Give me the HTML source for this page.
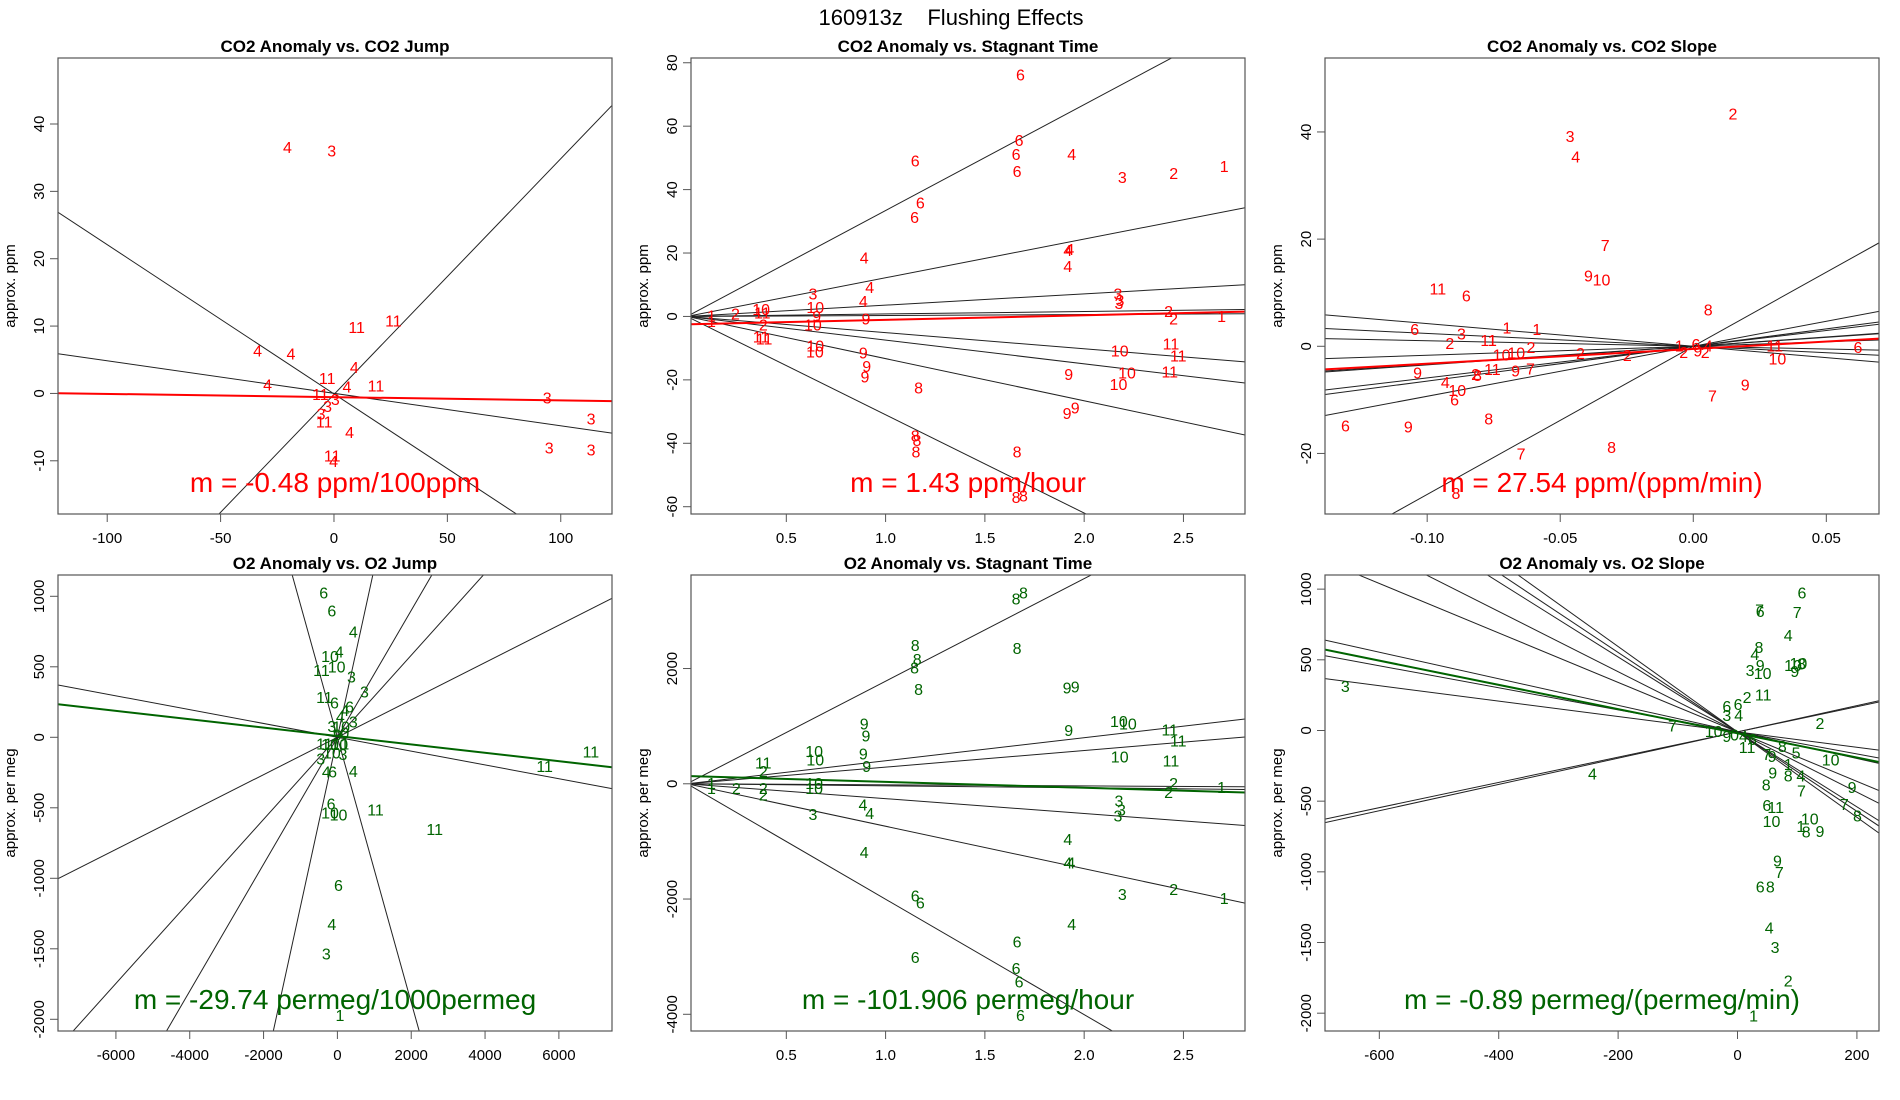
<!DOCTYPE html>
<html><head><meta charset="utf-8"><title>160913z Flushing Effects</title>
<style>
html,body{margin:0;padding:0;background:#fff;width:1900px;height:1100px;overflow:hidden;}
svg{display:block;font-family:"Liberation Sans",Arial,sans-serif;}
</style></head>
<body>
<svg id="chart" width="1900" height="1100" viewBox="0 0 1900 1100" xmlns="http://www.w3.org/2000/svg">
<rect x="0" y="0" width="1900" height="1100" fill="#fff"/>
<text x="951" y="25" font-size="22" text-anchor="middle" fill="#000" style="white-space:pre" xml:space="preserve">160913z    Flushing Effects</text>
</svg>
<script>
// ---------- Panel 1: CO2 Anomaly vs CO2 Jump ----------
var p1X=[-20.5,-1,10,26.2,-33.7,-19,9,-3,-29.3,5.7,18.5,-6,0.6,-2.8,-5.7,-4.3,94,113.4,94.9,113.4,6.9,-0.8,-0.2];
var p1Y=[36.6,36.1,9.9,10.8,6.4,5.9,3.9,2.3,1.3,1.0,1.2,-0.1,-0.8,-1.9,-3,-4.2,-0.6,-3.7,-8,-8.3,-5.7,-9.2,-10];
var p1Lab=["4","3","11","11","4","4","4","11","4","4","11","11","3","3","3","11","3","3","3","3","4","11","4"];
var p1LineM=[-0.2216,-0.0483,0.350];
var p1LineB=[-0.07,0.02,-0.15];
var p1FitM=-0.0048, p1FitB=-0.55;
var p1XTicks=[-100,-50,0,50,100];
var p1YTicks=[-10,0,10,20,30,40];

// ---------- Panel 2: CO2 Anomaly vs Stagnant Time ----------
var p2X=[1.679,1.672,1.657,1.662,1.149,1.175,1.146,1.937,2.192,2.451,2.705,1.918,1.928,1.918,0.892,0.92,0.888,0.634,2.17,2.18,2.175,0.646,0.653,0.634,0.901,0.244,0.123,0.123,0.373,0.379,0.384,0.373,0.388,0.646,0.644,0.888,0.905,0.896,1.166,1.149,1.158,1.153,1.662,1.657,1.694,1.922,1.914,1.955,2.179,2.216,2.173,2.437,2.474,2.431,2.425,2.45,2.692];
var p2Y=[76.3,55.7,51.2,45.9,49.2,36,31.4,51.3,44,45.3,47.4,21,21.2,15.9,18.6,9.3,4.9,7.2,7.3,5.2,4.3,3,0.1,-2.6,-0.7,1,0.3,-1.5,2.4,1.2,-2.6,-6.4,-6.9,-9.2,-11,-11.3,-15.7,-18.9,-22.4,-37.6,-38.9,-42.6,-42.6,-57,-56.5,-18.1,-30.5,-28.7,-10.8,-17.6,-21.3,-8.6,-12.3,-17.3,1.7,-0.7,0.1];
var p2Lab=["6","6","6","6","6","6","6","4","3","2","1","4","4","4","4","4","4","3","3","3","3","10","9","10","9","2","1","1","10","11","2","11","11","10","10","9","9","9","8","8","8","8","8","8","8","9","9","9","10","10","10","11","11","11","2","2","1"];
var p2LineM=[33.4,12.2,3.56,0.78,0.3,-5.1,-7.47,-13.3,-31.0];
var p2LineB=[0,0,0,0,0,0,0,0,0];
var p2FitM=1.43, p2FitB=-2.5;
var p2XTicks=[0.5,1.0,1.5,2.0,2.5];
var p2YTicks=[-60,-40,-20,0,20,40,60,80];

// ---------- Panel 3: CO2 Anomaly vs CO2 Slope ----------
var p3X=[0.0149,-0.0463,-0.0442,-0.0331,-0.0394,-0.0345,-0.096,-0.0853,0.0056,-0.1047,-0.0871,-0.07,-0.0588,-0.0915,-0.0769,-0.0755,-0.072,-0.0665,-0.061,-0.0424,-0.0248,-0.0053,-0.0036,0.001,0.0017,0.0045,0.0056,0.0306,0.0316,0.0619,-0.1036,-0.0818,-0.0811,-0.0755,-0.0668,-0.0612,-0.0932,-0.0887,-0.0897,0.0195,0.0072,-0.1307,-0.1071,-0.0769,-0.0647,-0.0307,-0.0892];
var p3Y=[43.4,39.2,35.4,18.9,13.2,12.5,10.8,9.5,6.9,3.2,2.4,3.5,3.2,0.6,1.2,1.2,-1.5,-1.2,-0.1,-1.3,-1.6,0.1,-1.1,0.4,-0.8,-1.1,0.1,0.1,-2.3,-0.1,-4.9,-5.2,-5.4,-4.2,-4.5,-4.1,-6.7,-8.2,-9.9,-7.1,-9.2,-14.8,-15,-13.5,-20,-18.8,-27.4];
var p3Lab=["2","3","4","7","9","10","11","6","8","6","3","1","1","2","11","1","10","10","2","2","2","1","2","6","9","2","4","11","10","6","9","2","8","11","9","7","4","10","6","9","7","6","9","8","7","8","8"];
var p3LineM=[-42.3,-23.9,-10.4,16.7,33.4,34.7,59,65,93.3,276.5];
var p3LineB=[0,0,0,0,0,0,0,0,0,0];
var p3FitM=27.54, p3FitB=-0.5;
var p3XTicks=[-0.10,-0.05,0.00,0.05];
var p3YTicks=[-20,0,20,40];

// ---------- Panel 4: O2 Anomaly vs O2 Jump ----------
var p4X=[-371,-150,431,-200,50,-20,-431,381,732,-351,-80,331,200,80,431,-150,100,200,6867,5614,-451,-150,150,200,-300,-130,431,-170,-200,30,1033,2637,30,-150,-301,70,-351,-200,50,0];
var p4Y=[1026,898,749,577,608,501,478,430,324,284,246,217,194,147,111,80,75,33,-102,-203,-149,-109,-118,-43,-243,-243,-239,-468,-534,-546,-511,-652,-1047,-1324,-1532,-1969,-43,-47,-47,20];
var p4Lab=["6","6","4","10","4","10","11","3","3","11","6","6","4","4","3","3","10","0","11","11","3","10","3","1","4","6","4","6","10","10","11","11","6","4","3","1","11","10","10","9"];
var p4LineM=[-0.049,0.1325,0.291,0.45,1.2,-0.94];
var p4LineB=[0,0,0,0,0,0];
var p4FitM=-0.02974, p4FitB=9;
var p4XTicks=[-6000,-4000,-2000,0,2000,4000,6000];
var p4YTicks=[-2000,-1500,-1000,-500,0,500,1000];

// ---------- Panel 5: O2 Anomaly vs Stagnant Time ----------
var p5X=[1.657,1.694,1.149,1.662,1.159,1.146,1.166,1.914,1.955,0.892,0.901,1.922,2.175,2.22,2.431,2.474,2.179,2.437,0.64,0.646,0.888,0.905,0.384,0.384,0.123,0.123,0.248,0.384,0.384,0.64,0.64,2.45,2.425,2.692,2.175,2.188,2.17,0.634,0.886,0.92,1.918,1.918,1.933,0.892,2.192,2.451,2.705,1.937,1.149,1.175,1.662,1.149,1.657,1.672,1.679];
var p5Y=[3217,3322,2406,2354,2162,2017,1641,1670,1687,1049,841,933,1090,1049,945,754,470,406,568,423,522,307,365,220,17,-70,-70,-70,-186,17,-70,17,-145,-58,-290,-446,-551,-522,-359,-504,-957,-1362,-1362,-1188,-1913,-1826,-1983,-2429,-1942,-2058,-2736,-3009,-3200,-3432,-4012];
var p5Lab=["8","8","8","8","8","8","8","9","9","9","9","9","10","10","11","11","10","11","10","10","9","9","11","2","1","1","2","2","2","10","10","2","2","1","3","3","3","3","4","4","4","4","4","4","3","2","1","4","6","6","6","6","6","6","6"];
var p5LineM=[1780,400,289,-18.5,-35,-258,-737,-2003];
var p5LineB=[0,0,0,0,0,0,0,0];
var p5FitM=-101.906, p5FitB=135;
var p5XTicks=[0.5,1.0,1.5,2.0,2.5];
var p5YTicks=[-4000,-2000,0,2000];

// ---------- Panel 6: O2 Anomaly vs O2 Slope ----------
var p6X=[108,37,38,100,85,36,29,38,21,42,93,102,96,107,-657,16,43,-18,1,-18,2,-109,138,-40,-18,-243,16,75,98,49,58,156,85,59,85,106,48,107,192,179,201,49,64,57,121,106,115,138,67,70,38,55,53,63,85,27,10,-5,25];
var p6Y=[976,857,844,839,675,592,541,465,427,407,465,478,420,473,313,238,255,174,187,111,111,35,53,-3,-40,-306,-116,-110,-154,-167,-179,-205,-238,-298,-318,-318,-382,-425,-399,-521,-602,-526,-541,-640,-622,-677,-715,-710,-920,-1001,-1102,-1102,-1393,-1532,-1767,-2017,-40,-30,-60];
var p6Lab=["6","7","6","7","4","8","4","9","3","10","10","10","9","8","3","2","11","6","6","3","4","7","2","10","9","4","11","8","5","7","9","10","1","9","8","4","8","7","9","7","8","6","11","10","10","1","8","9","9","7","6","8","4","3","2","1","4","0","6"];
var p6LineM=[-0.94,-0.78,-0.545,0.893,0.929,-1.75,-2.13,-2.65,-2.81,-3.02];
var p6LineB=[-10,-10,-10,-10,-10,-10,-10,-10,-10,-10];
var p6FitM=-0.857, p6FitB=-20;
var p6XTicks=[-600,-400,-200,0,200];
var p6YTicks=[-2000,-1500,-1000,-500,0,500,1000];

var NS="http://www.w3.org/2000/svg";
var svg=document.getElementById('chart');
function mk(tag,attrs,parent){var e=document.createElementNS(NS,tag);for(var k in attrs)e.setAttribute(k,attrs[k]);(parent||svg).appendChild(e);return e;}

function panel(id,box,xlim,ylim,title,ylab,xt,yt,xs,ys,labs,lm,lb,fm,fb,color,note,fmtX){
  var g=mk('g',{});
  
  
  function sx(v){return box.x+(v-xlim[0])/(xlim[1]-xlim[0])*box.w;}
  function sy(v){return box.y+box.h-(v-ylim[0])/(ylim[1]-ylim[0])*box.h;}
  var cp=mk('clipPath',{id:'clip-'+id},g);
  mk('rect',{x:box.x,y:box.y,width:box.w,height:box.h},cp);
  var t=mk('text',{x:box.x+box.w/2,y:box.y-6,'font-size':17,'font-weight':'bold','text-anchor':'middle',fill:'#000'},g);
  t.textContent=title;
  
  
  var yl=mk('text',{transform:'translate('+(box.x-43)+','+(box.y+box.h/2)+') rotate(-90)','font-size':15,'text-anchor':'middle',fill:'#000'},g);
  yl.textContent=ylab;
  
  
  var xa=mk('g',{},g);
  
  
  mk('line',{x1:sx(xt[0]),x2:sx(xt[xt.length-1]),y1:box.y+box.h,y2:box.y+box.h,stroke:'#555','stroke-width':1},xa);
  xt.forEach(function(v){
    var X=sx(v);
    mk('line',{x1:X,x2:X,y1:box.y+box.h,y2:box.y+box.h+8,stroke:'#555','stroke-width':1},xa);
    var tl=mk('text',{x:X,y:box.y+box.h+29,'font-size':15,'text-anchor':'middle',fill:'#000'},xa);
    tl.textContent=fmtX(v);
    
    
  });
  var ya=mk('g',{},g);
  
  
  mk('line',{x1:box.x,x2:box.x,y1:sy(yt[0]),y2:sy(yt[yt.length-1]),stroke:'#555','stroke-width':1},ya);
  yt.forEach(function(v){
    var Y=sy(v);
    mk('line',{x1:box.x,x2:box.x-8,y1:Y,y2:Y,stroke:'#555','stroke-width':1},ya);
    var tl=mk('text',{transform:'translate('+(box.x-14)+','+Y+') rotate(-90)','font-size':15,'text-anchor':'middle',fill:'#000'},ya);
    tl.textContent=String(v);
    
    
  });
  var lg=mk('g',{'clip-path':'url(#clip-'+id+')'},g);
  lm.forEach(function(m,i){
    var b=lb[i];
    var l=mk('line',{x1:sx(xlim[0]),y1:sy(m*xlim[0]+b),x2:sx(xlim[1]),y2:sy(m*xlim[1]+b),stroke:'#222','stroke-width':1},lg);
    
    
  });
  var fl=mk('line',{x1:sx(xlim[0]),y1:sy(fm*xlim[0]+fb),x2:sx(xlim[1]),y2:sy(fm*xlim[1]+fb),stroke:color,'stroke-width':2},lg);
  
  
  var pg=mk('g',{'clip-path':'url(#clip-'+id+')'},g);
  xs.forEach(function(v,i){
    var p=mk('text',{x:sx(v),y:sy(ys[i])+6,'font-size':16,'text-anchor':'middle',fill:color},pg);
    p.textContent=labs[i];
    
    
  });
  mk('rect',{x:box.x,y:box.y,width:box.w,height:box.h,fill:'none',stroke:'#555','stroke-width':1.2},g);
  var n=mk('text',{x:box.x+box.w/2,y:box.y+box.h-22,'font-size':28,'text-anchor':'middle',fill:color},g);
  n.textContent=note;
  
  
}
function f0(v){return String(v);}
function f1(v){return v.toFixed(1);}
function f2(v){return v.toFixed(2);}
var RED='#ff0000', GREEN='#006400';
var R1=58,R2=575,H=456,W=554,C1=58,C2=691,C3=1325;
panel('panel-co2-jump',{x:C1,y:R1,w:W,h:H},[-121.7,122.6],[-17.9,49.8],'CO2 Anomaly vs. CO2 Jump','approx. ppm',p1XTicks,p1YTicks,p1X,p1Y,p1Lab,p1LineM,p1LineB,p1FitM,p1FitB,RED,'m = -0.48 ppm/100ppm',f0);
panel('panel-co2-stagnant',{x:C2,y:R1,w:W,h:H},[0.02,2.81],[-62.3,81.5],'CO2 Anomaly vs. Stagnant Time','approx. ppm',p2XTicks,p2YTicks,p2X,p2Y,p2Lab,p2LineM,p2LineB,p2FitM,p2FitB,RED,'m = 1.43 ppm/hour',f1);
panel('panel-co2-slope',{x:C3,y:R1,w:W,h:H},[-0.1384,0.0698],[-31.3,53.8],'CO2 Anomaly vs. CO2 Slope','approx. ppm',p3XTicks,p3YTicks,p3X,p3Y,p3Lab,p3LineM,p3LineB,p3FitM,p3FitB,RED,'m = 27.54 ppm/(ppm/min)',f2);
panel('panel-o2-jump',{x:C1,y:R2,w:W,h:H},[-7569,7439],[-2083,1151],'O2 Anomaly vs. O2 Jump','approx. per meg',p4XTicks,p4YTicks,p4X,p4Y,p4Lab,p4LineM,p4LineB,p4FitM,p4FitB,GREEN,'m = -29.74 permeg/1000permeg',f0);
panel('panel-o2-stagnant',{x:C2,y:R2,w:W,h:H},[0.02,2.81],[-4290,3623],'O2 Anomaly vs. Stagnant Time','approx. per meg',p5XTicks,p5YTicks,p5X,p5Y,p5Lab,p5LineM,p5LineB,p5FitM,p5FitB,GREEN,'m = -101.906 permeg/hour',f1);
panel('panel-o2-slope',{x:C3,y:R2,w:W,h:H},[-691,237],[-2126,1100],'O2 Anomaly vs. O2 Slope','approx. per meg',p6XTicks,p6YTicks,p6X,p6Y,p6Lab,p6LineM,p6LineB,p6FitM,p6FitB,GREEN,'m = -0.89 permeg/(permeg/min)',f0);
</script>
</body></html>
